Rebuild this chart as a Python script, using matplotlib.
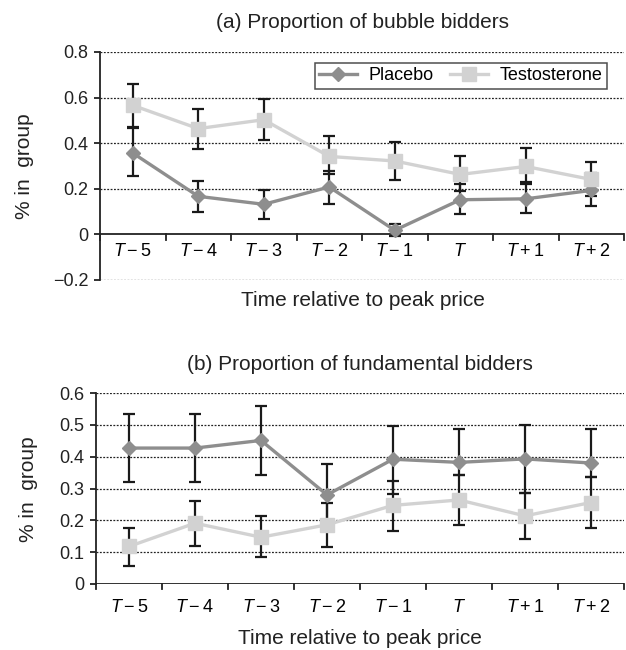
import matplotlib
matplotlib.use("Agg")
import matplotlib.pyplot as plt
import numpy as np

plt.rcParams['font.family'] = ['Liberation Sans', 'DejaVu Sans']
plt.rcParams['mathtext.fontset'] = 'custom'
plt.rcParams['mathtext.rm'] = 'Liberation Sans'
plt.rcParams['mathtext.it'] = 'Liberation Sans:italic'

categories = [r"$T-5$", r"$T-4$", r"$T-3$", r"$T-2$", r"$T-1$", r"$T$", r"$T+1$", r"$T+2$"]

# Panel (a): bubble bidders
a_placebo = [0.357, 0.167, 0.132, 0.208, 0.018, 0.152, 0.156, 0.193]
a_placebo_lo = [0.254, 0.098, 0.069, 0.135, -0.005, 0.088, 0.094, 0.123]
a_placebo_hi = [0.468, 0.234, 0.193, 0.280, 0.044, 0.220, 0.230, 0.268]
a_testo = [0.566, 0.464, 0.503, 0.342, 0.322, 0.263, 0.298, 0.241]
a_testo_lo = [0.471, 0.373, 0.415, 0.263, 0.237, 0.190, 0.219, 0.170]
a_testo_hi = [0.658, 0.551, 0.595, 0.430, 0.405, 0.342, 0.379, 0.316]

# Panel (b): fundamental bidders
b_placebo = [0.427, 0.427, 0.451, 0.280, 0.392, 0.382, 0.393, 0.380]
b_placebo_lo = [0.320, 0.320, 0.343, 0.182, 0.283, 0.343, 0.287, 0.336]
b_placebo_hi = [0.535, 0.535, 0.560, 0.378, 0.497, 0.488, 0.498, 0.487]
b_testo = [0.118, 0.191, 0.147, 0.186, 0.247, 0.264, 0.214, 0.256]
b_testo_lo = [0.058, 0.120, 0.086, 0.115, 0.168, 0.184, 0.141, 0.177]
b_testo_hi = [0.175, 0.261, 0.214, 0.256, 0.325, 0.343, 0.287, 0.336]

W, H = 626, 650
fig = plt.figure(figsize=(W / 100, H / 100), dpi=100)

PLACEBO_C = '#8e8e8e'
TESTO_C = '#d2d2d2'
ERR_C = '#1a1a1a'
AX_C = '#222222'
TICK_FS = 13
LAB_FS = 15

x = np.arange(len(categories)) + 0.5


def draw(ax, plac, plo, phi, test, tlo, thi, ylim, yticks, grid_vals):
    for vals, lo, hi in ((test, tlo, thi), (plac, plo, phi)):
        v = np.array(vals)
        yerr = np.vstack([v - np.array(lo), np.array(hi) - v])
        ax.errorbar(x, v, yerr=yerr, fmt='none', ecolor=ERR_C, elinewidth=1.6,
                    capsize=4.5, capthick=1.6, zorder=3)
    ax.plot(x, plac, color=PLACEBO_C, lw=2.4, marker='D', ms=7.5, mfc=PLACEBO_C,
            mec=PLACEBO_C, label='Placebo', zorder=4)
    ax.plot(x, test, color=TESTO_C, lw=2.4, marker='s', ms=10.5, mfc=TESTO_C,
            mec=TESTO_C, label='Testosterone', zorder=4)
    ax.set_xlim(0, len(categories))
    ax.set_ylim(*ylim)
    ax.set_yticks(yticks)
    ax.set_yticklabels([('\u2212' + f'{abs(t):.1f}' if t < 0 else ('0' if t == 0 else f'{t:.1f}'))
                        for t in yticks], fontsize=TICK_FS)
    for g in grid_vals:
        ax.axhline(g, color=AX_C, lw=0.9, ls=(0, (1.5, 1.2)), zorder=1)
    for s in ('top', 'right', 'bottom'):
        ax.spines[s].set_visible(False)
    ax.spines['left'].set_linewidth(1.3)
    ax.spines['left'].set_color(AX_C)
    ax.tick_params(axis='y', direction='out', length=4, width=1.3, pad=4.5, colors='#222222')
    ax.set_xticks([])
    ax.axhline(0.0, color=AX_C, lw=1.3, zorder=2)
    rng = ylim[1] - ylim[0]
    for b in range(len(categories) + 1):
        ax.plot([b, b], [0.0, -rng * 0.025], color=AX_C, lw=1.3, zorder=2, clip_on=False)


def fx(px):
    return px / W


def fy(py):
    return 1 - py / H


# panel a
axa = fig.add_axes([fx(100), fy(280), fx(624) - fx(100), fy(52) - fy(280)])
draw(axa, a_placebo, a_placebo_lo, a_placebo_hi, a_testo, a_testo_lo, a_testo_hi,
     (-0.2, 0.8), [-0.2, 0, 0.2, 0.4, 0.6, 0.8], [-0.2, 0.2, 0.4, 0.6, 0.8])
for xi, lab in zip(x, categories):
    axa.text(xi, -0.075, lab, ha='center', va='center', fontsize=TICK_FS)
fig.text(fx(362), fy(22), '(a) Proportion of bubble bidders', ha='center', va='center',
         fontsize=LAB_FS, color='#222222')
fig.text(fx(25), fy(166), '% in  group', rotation=90, ha='center', va='center',
         fontsize=LAB_FS, color='#222222')
fig.text(fx(363), fy(301), 'Time relative to peak price', ha='center', va='center',
         fontsize=LAB_FS, color='#222222')
leg = axa.legend(loc='upper right', bbox_to_anchor=(0.968, 0.952), borderaxespad=0,
                 ncol=2, fontsize=TICK_FS, frameon=True, fancybox=False, edgecolor=AX_C,
                 handlelength=2.1, columnspacing=0.9, borderpad=0.25, handletextpad=0.65)
leg.get_frame().set_linewidth(1.1)

# panel b
axb = fig.add_axes([fx(96), fy(584), fx(624) - fx(96), fy(393) - fy(584)])
draw(axb, b_placebo, b_placebo_lo, b_placebo_hi, b_testo, b_testo_lo, b_testo_hi,
     (0, 0.6), [0, 0.1, 0.2, 0.3, 0.4, 0.5, 0.6], [0.1, 0.2, 0.3, 0.4, 0.5, 0.6])
for xi, lab in zip(x, categories):
    axb.text(xi, -0.075, lab, ha='center', va='center', fontsize=TICK_FS, clip_on=False)
fig.text(fx(360), fy(365), '(b) Proportion of fundamental bidders', ha='center', va='center',
         fontsize=LAB_FS, color='#222222')
fig.text(fx(28), fy(489), '% in  group', rotation=90, ha='center', va='center',
         fontsize=LAB_FS, color='#222222')
fig.text(fx(360), fy(639), 'Time relative to peak price', ha='center', va='center',
         fontsize=LAB_FS, color='#222222')

fig.savefig('out.png', dpi=100)
